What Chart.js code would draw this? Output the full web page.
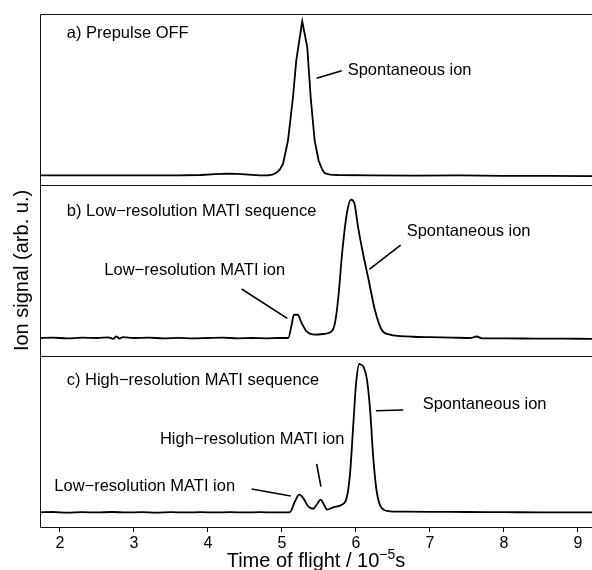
<!DOCTYPE html>
<html><head><meta charset="utf-8">
<script src="https://cdn.jsdelivr.net/npm/chart.js@4.4.1/dist/chart.umd.min.js"></script>
<style>
html,body{margin:0;padding:0;background:#fff;}
#wrap{position:relative;width:592px;height:570px;overflow:hidden;background:#fff;}
#wrap canvas{position:absolute;left:0;top:0;}
</style></head><body>
<div id="wrap">
<canvas id="cA" width="592" height="570"></canvas>
<canvas id="cB" width="592" height="570"></canvas>
<canvas id="cC" width="592" height="570"></canvas>
</div>
<script>
// ---- data (time of flight in 10^-5 s, ion signal in arb. units normalised per panel) ----
const xTicks = [2, 3, 4, 5, 6, 7, 8, 9];
const xRange = [1.73, 9.19];

const timeA = [1.73, 2.2, 2.7, 3.2, 3.6, 3.9, 4.1, 4.25, 4.4, 4.55, 4.7, 4.811, 4.87, 4.923, 4.97, 5.014, 5.081, 5.149, 5.193, 5.274, 5.342, 5.388, 5.442, 5.496, 5.54, 5.577, 5.65, 5.757, 6.2, 6.8, 7.4, 8.0, 8.6, 9.19];
const signalA = [-0.002, -0.003, -0.002, -0.003, -0.002, 0.0, 0.006, 0.009, 0.007, 0.002, -0.002, -0.003, 0.002, 0.015, 0.035, 0.072, 0.223, 0.506, 0.744, 1.0, 0.831, 0.506, 0.223, 0.093, 0.04, 0.012, 0.003, 0.0, -0.002, -0.004, -0.003, -0.005, -0.006, -0.007];

const timeB = [1.73, 1.9, 2.1, 2.3, 2.5, 2.65, 2.72, 2.76, 2.8, 2.85, 3.0, 3.2, 3.4, 3.6, 3.8, 4.0, 4.2, 4.4, 4.6, 4.8, 4.95, 5.085, 5.131, 5.162, 5.212, 5.266, 5.334, 5.446, 5.558, 5.672, 5.716, 5.761, 5.811, 5.874, 5.932, 5.977, 6.031, 6.099, 6.166, 6.257, 6.347, 6.459, 6.6, 6.77, 7.0, 7.3, 7.55, 7.63, 7.7, 8.0, 8.4, 8.8, 9.19];
const signalB = [0.0, 0.003, -0.003, 0.002, 0.0, 0.004, -0.006, 0.012, -0.004, 0.006, 0.0, 0.002, -0.002, 0.001, -0.003, 0.0, 0.002, -0.002, 0.0, -0.002, 0.0, 0.0, 0.096, 0.168, 0.168, 0.108, 0.048, 0.024, 0.029, 0.048, 0.108, 0.289, 0.601, 0.89, 1.0, 0.975, 0.794, 0.601, 0.433, 0.2, 0.06, 0.024, 0.014, 0.009, 0.006, 0.003, 0.0, 0.011, -0.002, -0.003, -0.004, -0.005, -0.006];

const timeC = [1.73, 1.9, 2.1, 2.3, 2.5, 2.7, 2.9, 3.1, 3.3, 3.5, 3.7, 3.9, 4.1, 4.3, 4.5, 4.7, 4.9, 5.05, 5.108, 5.176, 5.234, 5.288, 5.355, 5.423, 5.469, 5.523, 5.568, 5.612, 5.693, 5.807, 5.874, 5.919, 5.964, 6.0, 6.045, 6.07, 6.099, 6.145, 6.189, 6.234, 6.28, 6.347, 6.459, 6.7, 7.0, 7.5, 8.0, 8.5, 9.0, 9.19];
const signalC = [0.0, 0.002, -0.002, 0.001, -0.001, 0.002, -0.001, 0.001, -0.002, 0.001, -0.001, 0.001, -0.001, 0.001, -0.001, 0.001, -0.001, 0.0, 0.002, 0.074, 0.119, 0.096, 0.04, 0.024, 0.051, 0.085, 0.051, 0.018, 0.034, 0.051, 0.096, 0.254, 0.591, 0.86, 1.0, 0.995, 0.984, 0.906, 0.704, 0.367, 0.142, 0.029, 0.007, 0.004, 0.003, 0.002, 0.001, 0.0, 0.0, 0.0];

const yRangeA = [-0.065, 1.0475];
const yRangeB = [-0.13, 1.105];
const yRangeC = [-0.099, 1.054];

// text annotations: [text, x, y] and leader lines [x1, y1, x2, y2] (data units)
const notesA = [['a) Prepulse OFF', 2.091, 0.924], ['Spontaneous ion', 5.888, 0.679]];
const leadersA = [[5.469, 0.629, 5.807, 0.679]];
const notesB = [['b) Low\u2212resolution MATI sequence', 2.091, 0.912], ['Low\u2212resolution MATI ion', 2.599, 0.491], ['Spontaneous ion', 6.685, 0.768]];
const leadersB = [[4.455, 0.354, 5.072, 0.142], [6.18, 0.496, 6.604, 0.671]];
const notesC = [['c) High\u2212resolution MATI sequence', 2.091, 0.892], ['High\u2212resolution MATI ion', 3.351, 0.488], ['Low\u2212resolution MATI ion', 1.923, 0.173], ['Spontaneous ion', 6.901, 0.728]];
const leadersC = [[5.469, 0.326, 5.527, 0.173], [4.591, 0.157, 5.118, 0.110], [6.27, 0.685, 6.639, 0.690]];

const xTitle = ['Time of flight / 10', '\u22125', 's'];
const yTitle = 'Ion signal (arb. u.)';

// ---- layout ----
const FONT = '"Liberation Sans", Arial, Helvetica, sans-serif';
const W = 592, H = 570;
const panels = [
  {id: 'cA', top: 14, bottom: 185, t: timeA, s: signalA, yr: yRangeA, notes: notesA, leaders: leadersA, smooth: false},
  {id: 'cB', top: 185, bottom: 356, t: timeB, s: signalB, yr: yRangeB, notes: notesB, leaders: leadersB, smooth: true},
  {id: 'cC', top: 356, bottom: 527, t: timeC, s: signalC, yr: yRangeC, notes: notesC, leaders: leadersC, smooth: true, axis: true}
];

const panelPlugin = {
  id: 'panelDeco',
  afterDatasetsDraw(chart, args, o) {
    const {ctx, chartArea: a, scales: {x, y}} = chart;
    ctx.save();
    ctx.strokeStyle = '#111'; ctx.lineWidth = 1;
    const t = Math.round(a.top) + 0.5, b = Math.round(a.bottom) + 0.5, l = Math.round(a.left) + 0.5;
    ctx.beginPath();
    ctx.moveTo(a.right, t); ctx.lineTo(l, t); ctx.lineTo(l, b); ctx.lineTo(a.right, b);
    ctx.stroke();
    ctx.strokeStyle = '#000'; ctx.lineWidth = 1.6;
    o.leaders.forEach(([x1, y1, x2, y2]) => {
      ctx.beginPath();
      ctx.moveTo(x.getPixelForValue(x1), y.getPixelForValue(y1));
      ctx.lineTo(x.getPixelForValue(x2), y.getPixelForValue(y2));
      ctx.stroke();
    });
    ctx.fillStyle = '#000';
    ctx.font = '16.5px ' + FONT;
    ctx.textAlign = 'left'; ctx.textBaseline = 'middle';
    o.notes.forEach(([txt, tx, ty]) => {
      ctx.fillText(txt, x.getPixelForValue(tx), y.getPixelForValue(ty));
    });
    ctx.restore();
  }
};

const titlePlugin = {
  id: 'axisTitles',
  afterDraw(chart) {
    const {ctx, chartArea: a} = chart;
    ctx.save();
    ctx.fillStyle = '#000';
    ctx.textBaseline = 'alphabetic'; ctx.textAlign = 'left';
    const big = '20px ' + FONT, small = '14px ' + FONT;
    ctx.font = big; const w1 = ctx.measureText(xTitle[0]).width, w3 = ctx.measureText(xTitle[2]).width;
    ctx.font = small; const w2 = ctx.measureText(xTitle[1]).width;
    let x0 = (a.left + a.right) / 2 - (w1 + w2 + w3) / 2;
    const base = H - 3;
    ctx.font = big; ctx.fillText(xTitle[0], x0, base);
    ctx.font = small; ctx.fillText(xTitle[1], x0 + w1, base - 8);
    ctx.font = big; ctx.fillText(xTitle[2], x0 + w1 + w2, base);
    ctx.translate(28, (panels[0].top + panels[2].bottom) / 2);
    ctx.rotate(-Math.PI / 2);
    ctx.textAlign = 'center';
    ctx.font = big;
    ctx.fillText(yTitle, 0, 0);
    ctx.restore();
  }
};

panels.forEach(p => {
  const axisH = p.axis ? (H - p.bottom) : 0;
  new Chart(document.getElementById(p.id), {
    type: 'line',
    data: {
      datasets: [{
        data: p.t.map((v, i) => ({x: v, y: p.s[i]})),
        borderColor: '#000', borderWidth: 1.8, pointRadius: 0, fill: false,
        tension: p.smooth ? 0.4 : 0,
        cubicInterpolationMode: p.smooth ? 'monotone' : 'default'
      }]
    },
    options: {
      responsive: false, animation: false, devicePixelRatio: 1,
      events: [],
      layout: {padding: {left: 40, right: 0, top: p.top, bottom: p.axis ? 0 : H - p.bottom}},
      plugins: {legend: {display: false}, tooltip: {enabled: false}, panelDeco: {notes: p.notes, leaders: p.leaders}},
      scales: {
        x: {
          type: 'linear', min: xRange[0], max: xRange[1], display: !!p.axis,
          afterBuildTicks: s => { s.ticks = xTicks.map(v => ({value: v})); },
          afterFit: s => { s.height = axisH; },
          border: {display: false},
          grid: {drawOnChartArea: false, drawTicks: true, tickLength: 5, color: '#000', tickColor: '#000'},
          ticks: {color: '#000', font: {family: FONT, size: 16}, padding: 2, maxRotation: 0, autoSkip: false,
                  callback: v => String(v)}
        },
        y: {type: 'linear', min: p.yr[0], max: p.yr[1], display: false}
      }
    },
    plugins: p.axis ? [panelPlugin, titlePlugin] : [panelPlugin]
  });
});
</script>
</body></html>
